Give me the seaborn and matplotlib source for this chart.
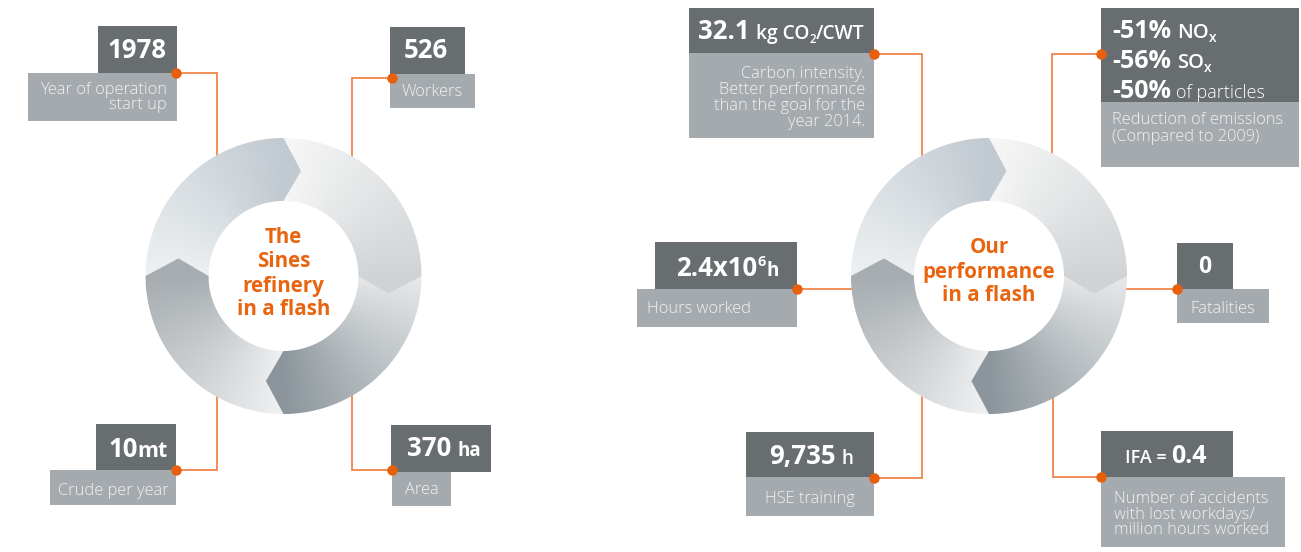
import numpy as np
import matplotlib
matplotlib.use("Agg")
import matplotlib.pyplot as plt
import seaborn as sns
from matplotlib.patches import Rectangle
from matplotlib.path import Path
from matplotlib.colors import to_rgb

# ---------------- data (texts of the infographic) ----------------
left_title = ["The", "Sines", "refinery", "in a flash"]
right_title = ["Our", "performance", "in a flash"]

left_values = ["1978", "526", "10", "370"]
left_units = ["", "", "mt", "ha"]
left_labels = [["Year of operation", "start up"], ["Workers"], ["Crude per year"], ["Area"]]

carbon_value = "32.1"
carbon_unit = ["kg CO", "2", "/CWT"]
carbon_label = ["Carbon intensity.", "Better performance", "than the goal for the", "year 2014."]

emission_values = ["-51%", "-56%", "-50%"]
emission_units = ["NO", "SO", "of particles"]
emission_label = ["Reduction of emissions", "(Compared to 2009)"]

hours_value = ["2.4x10", "6", "h"]
hours_label = ["Hours worked"]
fatal_value = "0"
fatal_label = ["Fatalities"]
hse_value = ["9,735", "h"]
hse_label = ["HSE training"]
ifa_value = ["IFA =", "0.4"]
ifa_label = ["Number of accidents", "with lost workdays/", "million hours worked"]

# ---------------- style ----------------
sns.set_theme(style="white")
plt.rcParams["font.family"] = ["Open Sans", "DejaVu Sans"]

DARK = "#686d70"
LIGHT = "#a5aaae"
LBL = "#f1f2f3"
ORANGE = "#e8640f"
LINE = "#f07b3e"
DOT = "#e8600c"
BIG = 18.5
LAB = 11.8
LW = "light"

W, H = 1301, 552
fig = plt.figure(figsize=(W / 100, H / 100), dpi=100)
ax = fig.add_axes([0, 0, 1, 1])
ax.set_xlim(0, W)
ax.set_ylim(H, 0)
ax.axis("off")
renderer = fig.canvas.get_renderer()


def rich(x, yb, pieces, ha="center", color="white", z=8):
    """pieces: (text, size, weight, dy, gap_before)"""
    objs, ws = [], []
    for s, fs, w, dy, gap in pieces:
        t = ax.text(0, yb + dy, s, fontsize=fs, fontweight=w, color=color,
                    ha="left", va="baseline", zorder=z)
        ws.append(t.get_window_extent(renderer=renderer).width)
        objs.append(t)
    total = sum(ws) + sum(p[4] for p in pieces)
    if ha == "center":
        cur = x - total / 2
    elif ha == "right":
        cur = x - total
    else:
        cur = x
    for t, wd, p in zip(objs, ws, pieces):
        cur += p[4]
        t.set_x(cur)
        cur += wd


def labels(lines, x, baselines, ha):
    for s, yb in zip(lines, baselines):
        ax.text(x, yb, s, fontsize=LAB, fontweight=LW, color=LBL,
                ha=ha, va="baseline", zorder=8)


def box(dark, light, dot, path):
    ax.add_patch(Rectangle(dark[:2], dark[2], dark[3], facecolor=DARK, edgecolor="none", zorder=5))
    ax.add_patch(Rectangle(light[:2], light[2], light[3], facecolor=LIGHT, edgecolor="none", zorder=5))
    xs, ys = zip(*path)
    ax.plot(xs, ys, color=LINE, lw=1.2, zorder=1, solid_joinstyle="miter")
    ax.plot([dot[0]], [dot[1]], "o", ms=7.5, color=DOT, mec="none", zorder=9)


def ring(cx, cy, ro=138.0, ri=75.0):
    segs = [  # tail angle, tail colour, head colour (clockwise arrows)
        (180, "#eef1f2", "#c1cad1"),
        (90, "#f7f7f7", "#d0d4d6"),
        (0, "#e7e9ea", "#8b959b"),
        (-90, "#f0f1f2", "#a6acb0"),
    ]
    rm = (ro + ri) / 2
    d = 9.5
    ss = 3
    x0 = int(cx - ro) - 3
    y0 = int(cy - ro) - 3
    N = int(2 * ro) + 7
    sub = (np.arange(N * ss) + 0.5) / ss
    X, Y = np.meshgrid(x0 + sub, y0 + sub)
    th = np.degrees(np.arctan2(-(Y - cy), X - cx))
    pts = np.column_stack([X.ravel(), Y.ravel()])
    rgb = np.zeros(X.shape + (3,))
    alpha = np.zeros(X.shape)

    def p(r, a):
        a = np.radians(a)
        return np.column_stack([cx + r * np.cos(a), cy - r * np.sin(a)])

    for a0, ct, ch in segs:
        a1 = a0 - 90
        outer = p(ro, np.linspace(a0, a1, 90))
        inner = p(ri, np.linspace(a1, a0, 60))
        poly = np.vstack([outer, p(rm, np.array([a1 - d])), inner, p(rm, np.array([a0 - d]))])
        inside = Path(poly).contains_points(pts).reshape(X.shape)
        dd = (a0 - th) % 360
        dd = np.where(dd > 270, dd - 360, dd)
        t = np.clip(dd / 90, 0, 1)[..., None]
        col = (1 - t) * np.array(to_rgb(ct)) + t * np.array(to_rgb(ch))
        m = inside & (alpha == 0)
        rgb[m] = col[m]
        alpha[m] = 1
    rgbp = (rgb * alpha[..., None]).reshape(N, ss, N, ss, 3).mean(axis=(1, 3))
    al = alpha.reshape(N, ss, N, ss).mean(axis=(1, 3))
    out = np.ones((N, N, 4))
    nz = al > 0
    out[..., :3][nz] = rgbp[nz] / al[nz][:, None]
    out[..., 3] = al
    ax.imshow(out, extent=(x0, x0 + N, y0 + N, y0), origin="upper",
              interpolation="nearest", aspect="auto", zorder=3)


TS = 14.8  # title size

# ---------------- left infographic ----------------
LCX, LCY = 283.5, 276
ring(LCX, LCY)
for s, yb in zip(left_title, [243, 267, 292, 315]):
    ax.text(LCX, yb, s, fontsize=TS, fontweight="bold", color=ORANGE, ha="center", va="baseline", zorder=8)

box((98, 26, 79, 47), (28, 73, 149, 48), (176, 73), [(176, 73), (217, 73), (217, 175)])
rich(137.5, 58, [(left_values[0], BIG, "bold", 0, 0)])
labels(left_labels[0], 167, [94, 109], "right")

box((390, 27, 75, 47), (390, 74, 85, 34), (392, 78), [(392, 78), (352, 78), (352, 175)])
rich(426, 58, [(left_values[1], BIG, "bold", 0, 0)])
labels(left_labels[1], 432.5, [96], "center")

box((96, 424, 80, 46), (50, 470, 126, 35), (176, 470), [(176, 470), (217, 470), (217, 380)])
rich(138, 457, [(left_values[2], BIG, "bold", 0, 0), (left_units[2], 15.5, "bold", 0, 0)])
labels(left_labels[2], 113, [495], "center")

box((391, 425, 100, 47), (392, 472, 59, 34), (392, 470), [(392, 470), (352, 470), (352, 380)])
rich(444, 456, [(left_values[3], BIG, "bold", 0, 0), (left_units[3], 13.5, "bold", 0, 7)])
labels(left_labels[3], 421.5, [494], "center")

# ---------------- right infographic ----------------
RCX, RCY = 989, 276
ring(RCX, RCY)
for s, yb in zip(right_title, [253, 278, 301]):
    ax.text(RCX, yb, s, fontsize=TS, fontweight="bold", color=ORANGE, ha="center", va="baseline", zorder=8)

box((689, 8, 185, 45), (689, 53, 185, 85), (874, 54), [(874, 54), (922, 54), (922, 175)])
rich(781.5, 39, [(carbon_value, BIG, "bold", 0, 0), (carbon_unit[0], 13.8, "semibold", 0, 6),
                 (carbon_unit[1], 8.5, "semibold", 4, 0), (carbon_unit[2], 13.8, "semibold", 0, 0)])
labels(carbon_label, 865, [78, 94, 110, 126], "right")

box((1101, 8, 198, 94), (1101, 102, 198, 65), (1101, 54), [(1101, 54), (1052, 54), (1052, 175)])
for i, yb in enumerate([38, 68]):
    rich(1112, yb, [(emission_values[i], 18, "bold", 0, 0), (emission_units[i], 14.5, "semibold", 0, 6),
                    ("x", 10, "semibold", 4, 0)], ha="left")
rich(1112, 98, [(emission_values[2], 18, "bold", 0, 0), (emission_units[2], 13, LW, 0, 5)], ha="left")
labels(emission_label, 1112, [124, 141], "left")

box((655, 242, 142, 47), (637, 289, 160, 38), (797, 289), [(797, 289), (870, 289)])
rich(727, 276, [(hours_value[0], BIG, "bold", 0, 0), (hours_value[1], 10.5, "bold", -10, 1),
                (hours_value[2], 13.5, "bold", 0, 0)])
labels(hours_label, 647, [313], "left")

box((1177, 243, 56, 46), (1177, 289, 92, 34), (1177, 289), [(1177, 289), (1110, 289)])
rich(1205, 273, [(fatal_value, 16.5, "bold", 0, 0)])
labels(fatal_label, 1223, [313], "center")

box((746, 432, 128, 45), (746, 477, 128, 39), (874, 478), [(874, 478), (922, 478), (922, 380)])
rich(811, 464, [(hse_value[0], BIG, "bold", 0, 0), (hse_value[1], 13.5, "semibold", 0, 6)])
labels(hse_label, 810, [503], "center")

box((1101, 431, 132, 46), (1101, 477, 184, 70), (1101, 477), [(1101, 477), (1053, 477), (1053, 380)])
rich(1166, 463, [(ifa_value[0], 13, "semibold", 0, 0), (ifa_value[1], 18, "bold", 0, 4)])
labels(ifa_label, 1114, [503, 519, 534], "left")

ax.set_xlim(0, W)
ax.set_ylim(H, 0)
fig.savefig("out.png", dpi=100, facecolor="white")
